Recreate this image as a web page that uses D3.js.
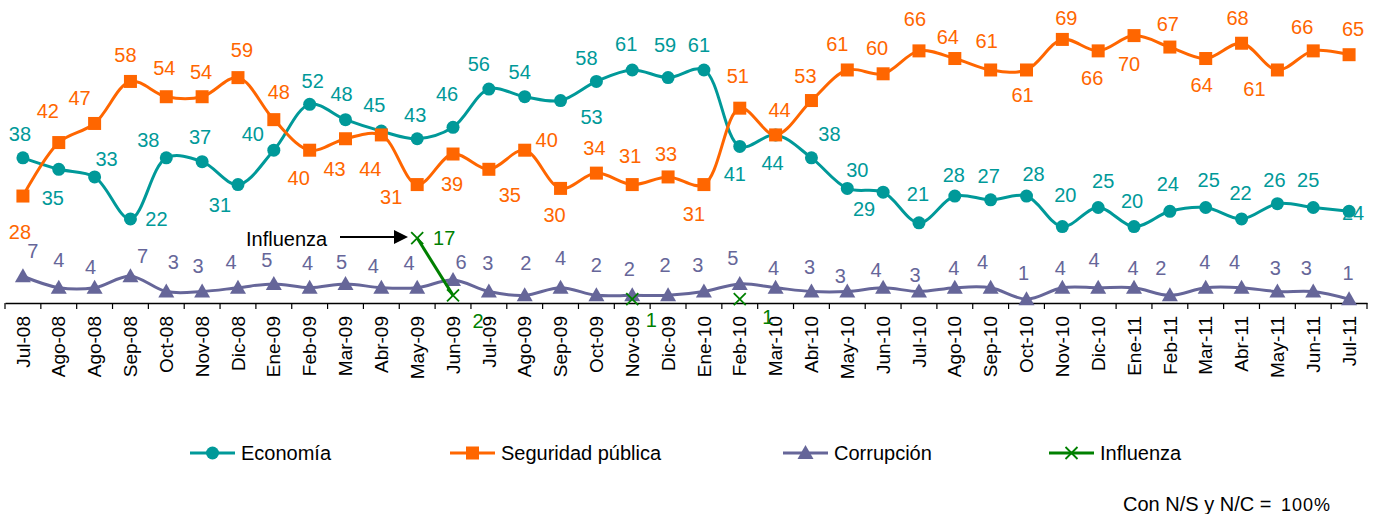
<!DOCTYPE html>
<html>
<head>
<meta charset="utf-8">
<script src="https://cdn.jsdelivr.net/npm/d3@7.8.5/dist/d3.min.js"></script>
<style>
  body { margin: 0; background: #fff; }
  svg { display: block; font-family: "Liberation Sans", Arial, sans-serif; }
</style>
</head>
<body>
<svg id="chart" width="1376" height="514"></svg>
<script>
// Data
const months = ["Jul-08","Ago-08","Ago-08","Sep-08","Oct-08","Nov-08","Dic-08","Ene-09","Feb-09","Mar-09",
  "Abr-09","May-09","Jun-09","Jul-09","Ago-09","Sep-09","Oct-09","Nov-09","Dic-09","Ene-10",
  "Feb-10","Mar-10","Abr-10","May-10","Jun-10","Jul-10","Ago-10","Sep-10","Oct-10","Nov-10",
  "Dic-10","Ene-11","Feb-11","Mar-11","Abr-11","May-11","Jun-11","Jul-11"];

const economia = [38,35,33,22,38,37,31,40,52,48,45,43,46,56,54,53,58,61,59,61,
  41,44,38,30,29,21,28,27,28,20,25,20,24,25,22,26,25,24];
const seguridad = [28,42,47,58,54,54,59,48,40,43,44,31,39,35,40,30,34,31,33,31,
  51,44,53,61,60,66,64,61,61,69,66,70,67,64,68,61,66,65];
const corrupcion = [7,4,4,7,3,3,4,5,4,5,4,4,6,3,2,4,2,2,2,3,
  5,4,3,3,4,3,4,4,1,4,4,4,2,4,4,3,3,1];
const influenza = [null,null,null,null,null,null,null,null,null,null,
  null,17,2,null,null,null,null,1,null,null,
  1,null,null,null,null,null,null,null,null,null,
  null,null,null,null,null,null,null,null];

// label placement (offset of label centre from its point, px)
const econLabelOff = [[-3,-24],[-6,28],[12,-18],[26,0],[-18,-18],[-2,-25],[-18,20],[-21,-16],[3,-24],[-4,-26],
  [-7,-26],[-2,-24],[-6,-33],[-10,-25],[-5,-25],[31,16],[-10,-24],[-6,-26],[-3,-33],[-5,-25],
  [-5,27],[-3,28],[18,-24],[10,-19],[-19,17],[-1,-29],[-1,-21],[-2,-24],[7,-22],[3,-32],
  [5,-27],[-2,-26],[-2,-28],[3,-28],[-1,-26],[-3,-24],[-5,-28],[4,1]];
const segLabelOff = [[-3,36],[-11,-32],[-15,-26],[-5,-27],[-2,-29],[-1,-25],[4,-28],[5,-28],[-11,28],[-11,30],
  [-11,34],[-26,12],[-1,30],[21,25],[22,-10],[-6,26],[-2,-25],[-2,-29],[-2,-23],[-10,29],
  [-2,-32],[4,-25],[-6,-25],[-10,-26],[-6,-26],[-4,-32],[-7,-22],[-4,-29],[-4,25],[4,-22],
  [-6,27],[-5,28],[-2,-23],[-4,26],[-4,-25],[-23,19],[-11,-24],[4,-26]];
const corLabelOff = [[10,-25],[0,-28],[-4,-21],[12,-20],[7,-30],[-4,-26],[-7,-26],[-7,-24],[-2,-25],[-4,-22],
  [-8,-22],[-8,-25],[8,-18],[-1,-29],[1,-33],[0,-30],[0,-31],[-3,-27],[-3,-31],[-6,-27],
  [-7,-26],[-2,-20],[-2,-25],[-7,-16],[-7,-18],[-4,-17],[-1,-20],[-8,-26],[-3,-26],[-2,-20],
  [-4,-28],[-1,-20],[-9,-28],[-1,-26],[-7,-26],[-2,-24],[-7,-24],[-1,-26]];
const fluLabelOff = {11:[27,0], 12:[25,25], 17:[19,21], 20:[28,18]};

const series = [
  { name: "Economía", values: economia, color: "#009999", symbol: "circle", off: econLabelOff },
  { name: "Seguridad pública", values: seguridad, color: "#FF6600", symbol: "square", off: segLabelOff },
  { name: "Corrupción", values: corrupcion, color: "#666699", symbol: "triangle", off: corLabelOff },
  { name: "Influenza", values: influenza, color: "#008000", symbol: "cross", off: fluLabelOff }
];

const svg = d3.select("#chart");
const axisY = 303;

const x = d3.scaleBand().domain(d3.range(months.length)).range([5, 1367]);
const cx = i => x(i) + x.bandwidth() / 2;
const y = d3.scaleLinear().domain([0, 80]).range([axisY, -2.6]);

// symbols
function drawSymbol(g, type, color, px, py) {
  if (type === "circle") {
    g.append("circle").attr("cx", px).attr("cy", py).attr("r", 6.5).attr("fill", color);
  } else if (type === "square") {
    g.append("rect").attr("x", px - 6.5).attr("y", py - 6.5).attr("width", 13).attr("height", 13).attr("fill", color);
  } else if (type === "triangle") {
    g.append("path").attr("d", `M${px},${py - 8}L${px + 8},${py + 6}L${px - 8},${py + 6}Z`).attr("fill", color);
  } else {
    g.append("path").attr("d", `M${px - 6},${py - 6}L${px + 6},${py + 6}M${px - 6},${py + 6}L${px + 6},${py - 6}`)
      .attr("stroke", color).attr("stroke-width", 1.8).attr("fill", "none");
  }
}

// axis
const xAxis = d3.axisBottom(x).tickSize(0).tickFormat(i => months[i]);
const ax = svg.append("g").attr("transform", `translate(0,${axisY})`).call(xAxis);
ax.select(".domain").attr("stroke", "#000").attr("stroke-width", 1.5);
ax.selectAll(".tick text")
  .attr("transform", "rotate(-90)")
  .attr("x", -13).attr("y", 0).attr("dy", "0.35em")
  .attr("text-anchor", "end")
  .attr("font-size", 19)
  .attr("font-family", "Liberation Sans, Arial, sans-serif")
  .attr("fill", "#000");
svg.append("g").selectAll("line")
  .data(d3.range(months.length + 1))
  .join("line")
  .attr("x1", i => i < months.length ? x(i) : x.range()[1])
  .attr("x2", i => i < months.length ? x(i) : x.range()[1])
  .attr("y1", axisY).attr("y2", axisY + 6)
  .attr("stroke", "#000").attr("stroke-width", 1.2);

// lines (smoothed like the original), markers, labels
const line = d3.line()
  .defined(d => d != null)
  .x((d, i) => cx(i))
  .y(d => y(d))
  .curve(d3.curveCatmullRom.alpha(0.5));

series.forEach(s => {
  const g = svg.append("g");
  g.append("path")
    .datum(s.values)
    .attr("d", line)
    .attr("fill", "none")
    .attr("stroke", s.color)
    .attr("stroke-width", 3)
    .attr("stroke-linejoin", "round");
  s.values.forEach((v, i) => {
    if (v == null) return;
    drawSymbol(g, s.symbol, s.color, cx(i), y(v));
  });
  s.values.forEach((v, i) => {
    if (v == null) return;
    const o = s.off[i] || [0, -25];
    g.append("text")
      .attr("x", cx(i) + o[0])
      .attr("y", y(v) + o[1])
      .attr("dy", "0.36em")
      .attr("text-anchor", "middle")
      .attr("font-size", 20)
      .attr("fill", s.color)
      .text(v);
  });
});

// annotation
const ann = svg.append("g");
ann.append("text").attr("x", 246).attr("y", 246).attr("font-size", 20).attr("fill", "#000").text("Influenza");
ann.append("line").attr("x1", 340).attr("x2", 396).attr("y1", 237).attr("y2", 237)
  .attr("stroke", "#000").attr("stroke-width", 2.2);
ann.append("path").attr("d", "M394,230L408,237L394,244Z").attr("fill", "#000");

// legend
const legendX = [190, 450, 783, 1049];
const legendY = 453;
const lg = svg.append("g");
series.forEach((s, k) => {
  const lx = legendX[k];
  lg.append("line").attr("x1", lx).attr("x2", lx + 45).attr("y1", legendY).attr("y2", legendY)
    .attr("stroke", s.color).attr("stroke-width", 3);
  drawSymbol(lg, s.symbol, s.color, lx + 22.5, legendY);
  lg.append("text").attr("x", lx + 51).attr("y", legendY).attr("dy", "0.36em")
    .attr("font-size", 20).attr("fill", "#000").text(s.name);
});

// note
const note = svg.append("text").attr("x", 1123).attr("y", 511).attr("font-size", 20).attr("fill", "#000");
note.append("tspan").text("Con N/S y N/C = ");
note.append("tspan").attr("font-size", 18).attr("dx", 4).attr("letter-spacing", 1).text("100%");
</script>
</body>
</html>
